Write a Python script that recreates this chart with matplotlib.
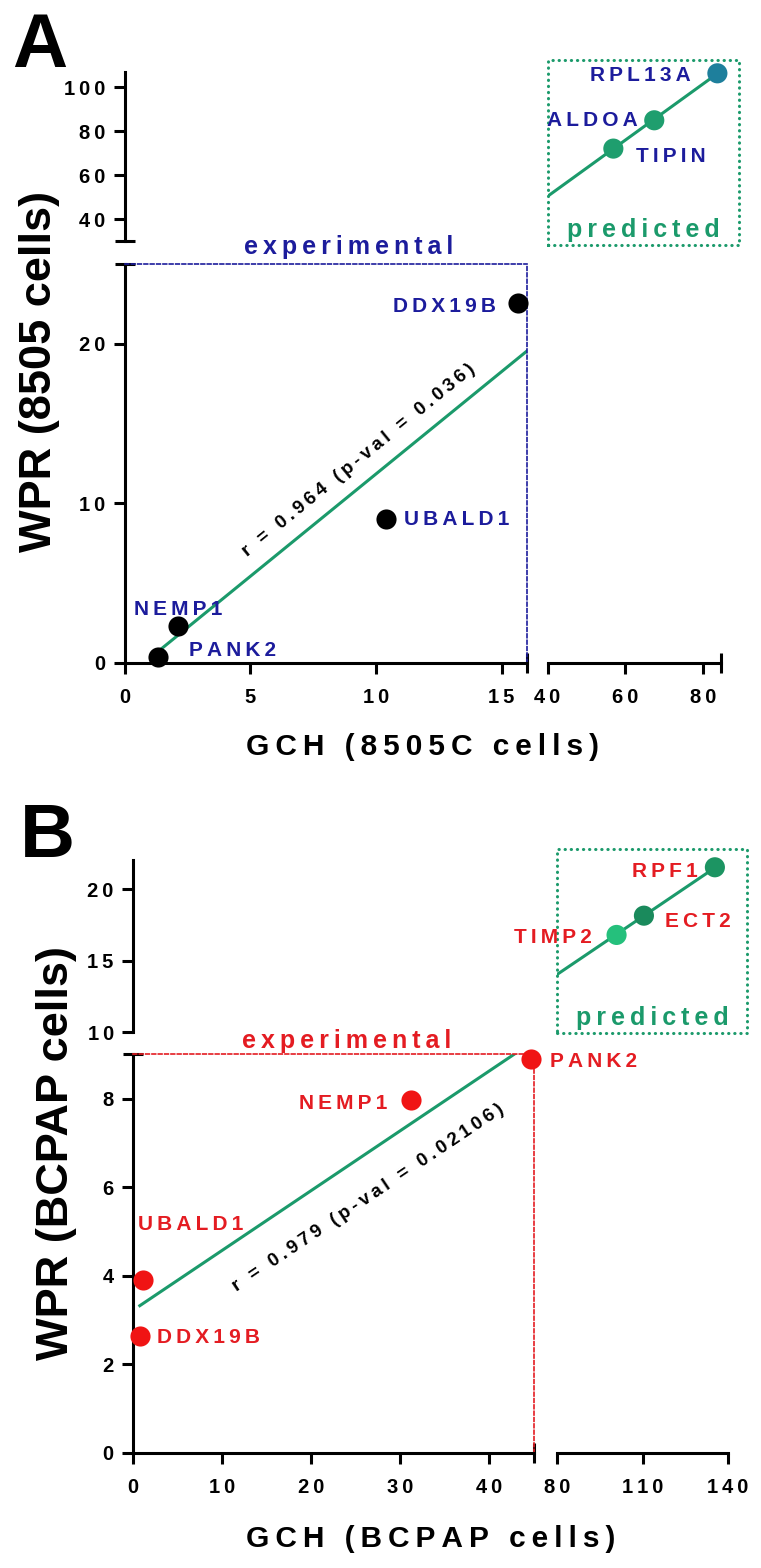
import numpy as np
import matplotlib

matplotlib.use("Agg")
import matplotlib.pyplot as plt
from matplotlib.ticker import FixedLocator, FuncFormatter
from matplotlib.patches import Rectangle

# ---- data ----
a_genes = ["PANK2", "NEMP1", "UBALD1", "DDX19B"]
a_gch = [1.34, 2.14, 10.4, 15.67]
a_wpr = [0.37, 2.3, 9.0, 22.56]
a_pred_genes = ["TIPIN", "ALDOA", "RPL13A"]
a_pred_gch = [56.9, 67.4, 83.6]
a_pred_wpr = [72.1, 85.0, 106.4]
a_stat = "r = 0.964 (p-val = 0.036)"

b_genes = ["DDX19B", "UBALD1", "NEMP1", "PANK2"]
b_gch = [0.73, 1.1, 31.2, 44.7]
b_wpr = [2.65, 3.91, 7.96, 8.89]
b_pred_genes = ["TIMP2", "ECT2", "RPF1"]
b_pred_gch = [100.9, 110.5, 135.4]
b_pred_wpr = [16.8, 18.15, 21.54]
b_stat = "r = 0.979 (p-val = 0.02106)"

# ---- style ----
W, H = 761, 1568
plt.rcParams["font.family"] = ["Liberation Sans", "DejaVu Sans"]
plt.rcParams["font.weight"] = "bold"
GREEN = "#1b9a6b"
LW = 2.2


def sp(s):
    return "\u2009".join(s)


def px_axes(fig, l, t, r, b):
    ax = fig.add_axes([l / W, 1 - b / H, (r - l) / W, (b - t) / H])
    ax.patch.set_visible(False)
    for s in ax.spines.values():
        s.set_visible(False)
    ax.tick_params(labelsize=14.5, width=LW, length=8, direction="out")
    fmt = FuncFormatter(lambda v, p: sp(f"{v:g}"))
    ax.xaxis.set_major_formatter(fmt)
    ax.yaxis.set_major_formatter(fmt)
    return ax


def build_panel(fig, box, xl, xr, yl, yh, xticks, yticks, color, pt_color,
                genes, gx, gy, offs, pgenes, px, py, pcolors, poffs,
                stat, stat_xy, exp_x, exp_off, pred_xy, pred_box):
    x0, x1, x2, x3, y0, y1, y2, y3 = box
    bl = px_axes(fig, x0, y2, x1, y3)
    br = px_axes(fig, x2, y2, x3, y3)
    tl = px_axes(fig, x0, y0, x1, y1)
    tr = px_axes(fig, x2, y0, x3, y1)
    for ax in (bl, tl):
        ax.set_xlim(*xl)
    for ax in (br, tr):
        ax.set_xlim(*xr)
    for ax in (bl, br):
        ax.set_ylim(*yl)
    for ax in (tl, tr):
        ax.set_ylim(*yh)

    # lower left: experimental
    bl.spines["left"].set_visible(True)
    bl.spines["bottom"].set_visible(True)
    bl.spines["left"].set_linewidth(LW)
    bl.spines["bottom"].set_linewidth(LW)
    for side in ("top", "right"):
        bl.spines[side].set_visible(True)
        bl.spines[side].set_color(color)
        bl.spines[side].set_linewidth(1.2)
        bl.spines[side].set_linestyle((0, (2.2, 1.6)))
    bl.xaxis.set_major_locator(FixedLocator(xticks[0]))
    bl.yaxis.set_major_locator(FixedLocator(yticks[0]))
    bl.xaxis.set_minor_locator(FixedLocator([xl[1]]))
    bl.yaxis.set_minor_locator(FixedLocator([yl[1]]))
    bl.tick_params(axis="x", pad=10)
    bl.tick_params(axis="y", pad=6)

    # lower right: x axis only
    br.spines["bottom"].set_visible(True)
    br.spines["bottom"].set_linewidth(LW)
    br.xaxis.set_major_locator(FixedLocator(xticks[1]))
    br.xaxis.set_minor_locator(FixedLocator([xr[0], xr[1]]))
    br.set_yticks([])
    br.tick_params(axis="x", pad=10)

    # upper left: y axis only
    tl.spines["left"].set_visible(True)
    tl.spines["left"].set_linewidth(LW)
    tl.yaxis.set_major_locator(FixedLocator(yticks[1]))
    tl.yaxis.set_minor_locator(FixedLocator([yh[0]]))
    tl.set_xticks([])
    tl.tick_params(axis="y", pad=6)

    tr.set_xticks([])
    tr.set_yticks([])
    for ax in (bl, br, tl):
        ax.tick_params(which="minor", direction="inout", length=14, width=LW)

    # regression over all points
    allx = np.array(gx + px)
    ally = np.array(gy + py)
    k, c = np.polyfit(allx, ally, 1)
    xs = np.array([allx.min(), allx.max()])
    for ax in (bl, tr):
        ax.plot(xs, k * xs + c, color=GREEN, lw=2.2, zorder=2)

    bl.scatter(gx, gy, s=210, color=pt_color, zorder=3, clip_on=False, linewidths=0)
    for g, x, y, (dx, dy, ha) in zip(genes, gx, gy, offs):
        bl.annotate(sp(g), (x, y), xytext=(dx, dy), textcoords="offset pixels",
                    ha=ha, va="center", fontsize=15, color=color)
    tr.scatter(px, py, s=210, color=pcolors, zorder=3, clip_on=False, linewidths=0)
    for g, x, y, (dx, dy, ha) in zip(pgenes, px, py, poffs):
        tr.annotate(sp(g), (x, y), xytext=(dx, dy), textcoords="offset pixels",
                    ha=ha, va="center", fontsize=15, color=color,
                    annotation_clip=False)

    bl.text(stat_xy[0], stat_xy[1], sp(stat), rotation=np.degrees(np.arctan(k)),
            transform_rotates_text=True, rotation_mode="anchor",
            ha="center", va="center", fontsize=13.5, color="black")

    bl.annotate(sp("experimental"), (exp_x, yl[1]), xytext=(0, exp_off),
                textcoords="offset pixels", ha="center", va="baseline",
                fontsize=18, color=color, annotation_clip=False)
    tr.text(pred_xy[0], pred_xy[1], sp("predicted"), ha="center", va="baseline",
            fontsize=18, color=GREEN)
    bx0, by0, bx1, by1 = pred_box
    tr.add_patch(Rectangle((bx0, by0), bx1 - bx0, by1 - by0, fill=False,
                           edgecolor=GREEN, lw=2.2, linestyle=(0, (0.1, 1.9)),
                           capstyle="round", clip_on=False))


fig = plt.figure(figsize=(W / 100, H / 100), dpi=100)

build_panel(
    fig, (124.7, 526.7, 547.5, 720.5, 72, 241, 264, 662.7),
    (0, 16), (40, 84.4), (0, 25), (30, 107),
    ([0, 5, 10, 15], [40, 60, 80]), ([0, 10, 20], [40, 60, 80, 100]),
    "#1c1c9c", "black",
    a_genes, a_gch, a_wpr,
    [(31, 6, "left"), (0, 17, "center"), (18, 0, "left"), (-22, -4, "right")],
    a_pred_genes, a_pred_gch, a_pred_wpr, ["#1f9e6e", "#1f9e6e", "#1e7f9c"],
    [(23, -8, "left"), (-17, 0, "right"), (-27, -2, "right")],
    a_stat, (9.3, 12.7), 8.9, 10, (64.5, 32), (40.1, 28.2, 89.2, 112.3),
)

build_panel(
    fig, (133.3, 534, 557, 728, 860, 1032, 1054.3, 1453),
    (0, 45), (80, 140), (0, 9), (10, 22.05),
    ([0, 10, 20, 30, 40], [80, 110, 140]), ([0, 2, 4, 6, 8], [10, 15, 20]),
    "#e41c22", "#f01414",
    b_genes, b_gch, b_wpr,
    [(17, -2, "left"), (-5, 55, "left"), (-24, -3, "right"), (19, -2, "left")],
    b_pred_genes, b_pred_gch, b_pred_wpr, ["#25c07c", "#1a8a5c", "#1c9462"],
    [(-25, -3, "right"), (21, -6, "left"), (-17, -4, "right")],
    b_stat, (26.4, 5.76), 24.0, 6, (113.3, 10.5), (79.9, 9.91, 146.6, 22.85),
)

fig.text(12 / W, 1 - 67 / H, "A", fontsize=55, ha="left", va="baseline")
fig.text(20 / W, 1 - 857 / H, "B", fontsize=55, ha="left", va="baseline")
fig.text(422.6 / W, 1 - 755 / H, sp("GCH (8505C cells)"), fontsize=21.5,
         ha="center", va="baseline")
fig.text(430.6 / W, 1 - 1547 / H, sp("GCH (BCPAP cells)"), fontsize=21.5,
         ha="center", va="baseline")
fig.text(40 / W, 1 - 371 / H, "WPR (8505 cells)", fontsize=32.5,
         rotation=90, ha="center", va="center")
fig.text(57 / W, 1 - 1153.5 / H, "WPR (BCPAP cells)", fontsize=32.5,
         rotation=90, ha="center", va="center")

fig.savefig("out.png", dpi=100)
plt.close(fig)
